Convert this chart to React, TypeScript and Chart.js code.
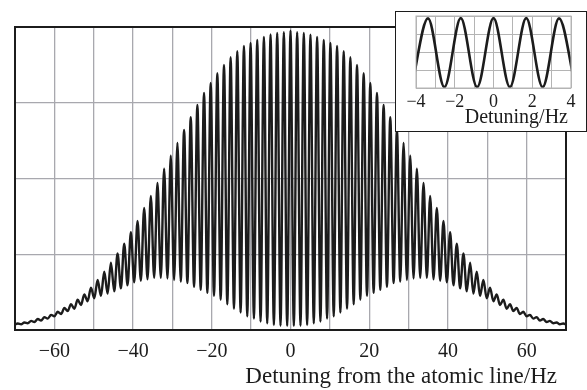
import React, { useEffect, useRef } from "react";
import { Chart, registerables } from "chart.js";

Chart.register(...registerables);

// Fringe spacing (Hz)
const fringePeriodHz = 1.69;

// Main plot: heights of fringe maxima at k * period, k = 0..41 (pattern is symmetric about 0)
const peakTops = [
  3.95, 3.93, 3.92, 3.9, 3.87, 3.83, 3.79, 3.75, 3.68, 3.6, 3.5, 3.39, 3.26, 3.13,
  2.97, 2.81, 2.64, 2.47, 2.3, 2.13, 1.94, 1.77, 1.61, 1.44, 1.29, 1.14, 1.01, 0.89,
  0.77, 0.66, 0.56, 0.47, 0.4, 0.34, 0.29, 0.24, 0.2, 0.17, 0.145, 0.12, 0.1, 0.085,
];
// Main plot: heights of fringe minima at (k + 0.5) * period, k = 0..41
const troughBottoms = [
  0.055, 0.057, 0.066, 0.088, 0.11, 0.15, 0.18, 0.23, 0.28, 0.34, 0.4, 0.45, 0.49, 0.53,
  0.57, 0.62, 0.64, 0.66, 0.68, 0.69, 0.69, 0.67, 0.65, 0.63, 0.59, 0.55, 0.51, 0.48,
  0.45, 0.42, 0.38, 0.33, 0.28, 0.25, 0.21, 0.18, 0.15, 0.125, 0.105, 0.09, 0.075, 0.07,
];

// Inset: maxima at k * period (k = -2..2), minima at (k + 0.5) * period (k = -3..2)
const insetPeakTops = [3.87, 3.88, 3.88, 3.88, 3.87];
const insetTroughBottoms = [0.05, 0.05, 0.05, 0.05, 0.05, 0.05];

// Axis settings
const mainXRange = [-70, 70];
const mainXStep = 10;
const mainXLabelStep = 20;
const insetXRange = [-4, 4];
const yRange = [0, 4];
const mainTitle = "Detuning from the atomic line/Hz";
const insetTitle = "Detuning/Hz";

const SERIF = "'Liberation Serif', 'DejaVu Serif', serif";
const INK = "#1c1c1c";

function fmt(v: number): string {
  return v < 0 ? "\u2212" + Math.abs(v) : String(v);
}

function buildMainPoints() {
  const pts: { x: number; y: number }[] = [];
  const n = peakTops.length;
  for (let k = -n; k < n; k++) {
    if (k > -n) {
      pts.push({ x: k * fringePeriodHz, y: peakTops[Math.abs(k)] });
    }
    const ti = k >= 0 ? k : -k - 1;
    pts.push({ x: (k + 0.5) * fringePeriodHz, y: troughBottoms[ti] });
  }
  pts.push({ x: (n - 1) * fringePeriodHz, y: peakTops[n - 1] });
  pts.sort((a, b) => a.x - b.x);
  return pts;
}

function buildInsetPoints() {
  const pts: { x: number; y: number }[] = [];
  insetPeakTops.forEach((v, i) => pts.push({ x: (i - 2) * fringePeriodHz, y: v }));
  insetTroughBottoms.forEach((v, i) => pts.push({ x: (i - 3 + 0.5) * fringePeriodHz, y: v }));
  pts.sort((a, b) => a.x - b.x);
  return pts;
}

const framePlugin = {
  id: "frame",
  afterDraw(chart: any, _args: any, opts: any) {
    const { ctx, chartArea } = chart;
    const { left, top, right, bottom } = chartArea;
    ctx.save();
    if (opts.width > 0) {
      ctx.strokeStyle = opts.color;
      ctx.lineWidth = opts.width;
      ctx.strokeRect(left, top, right - left, bottom - top);
    }
    if (opts.title) {
      ctx.font = opts.font;
      ctx.fillStyle = INK;
      ctx.textAlign = "right";
      ctx.textBaseline = "alphabetic";
      ctx.fillText(opts.title, right - opts.titleInset, bottom + opts.titleOffset);
    }
    ctx.restore();
  },
};

export default function App() {
  const mainRef = useRef<HTMLCanvasElement>(null);
  const insetRef = useRef<HTMLCanvasElement>(null);

  useEffect(() => {
    const main = new Chart(mainRef.current!, {
      type: "line",
      data: {
        datasets: [
          {
            data: buildMainPoints(),
            borderColor: INK,
            borderWidth: 2.4,
            pointRadius: 0,
            cubicInterpolationMode: "monotone",
            fill: false,
          },
        ],
      },
      options: {
        animation: false,
        responsive: false,
        events: [],
        layout: { padding: { left: 15, right: 21, top: 27, bottom: 0 } },
        plugins: {
          legend: { display: false },
          tooltip: { enabled: false },
          frame: {
            color: INK,
            width: 2,
            title: mainTitle,
            font: `23px ${SERIF}`,
            titleInset: 9,
            titleOffset: 53,
          },
        } as any,
        scales: {
          x: {
            type: "linear",
            min: mainXRange[0],
            max: mainXRange[1],
            afterFit: (s: any) => {
              s.height = 60;
            },
            border: { display: false },
            grid: { color: "#a8a8ae", lineWidth: 1.3, drawTicks: false },
            ticks: {
              stepSize: mainXStep,
              autoSkip: false,
              maxRotation: 0,
              padding: 10,
              color: INK,
              font: { family: SERIF, size: 20 },
              callback: (v: any) => (Number(v) % mainXLabelStep === 0 ? fmt(Number(v)) : ""),
            },
          },
          y: {
            type: "linear",
            min: yRange[0],
            max: yRange[1],
            afterFit: (s: any) => {
              s.width = 0;
            },
            border: { display: false },
            grid: { color: "#a8a8ae", lineWidth: 1.3, drawTicks: false },
            ticks: { display: false, stepSize: 1 },
          },
        },
      },
      plugins: [framePlugin],
    });

    const inset = new Chart(insetRef.current!, {
      type: "line",
      data: {
        datasets: [
          {
            data: buildInsetPoints(),
            borderColor: INK,
            borderWidth: 2.6,
            pointRadius: 0,
            cubicInterpolationMode: "monotone",
            fill: false,
          },
        ],
      },
      options: {
        animation: false,
        responsive: false,
        events: [],
        layout: { padding: { left: 20, right: 14, top: 4, bottom: 0 } },
        plugins: {
          legend: { display: false },
          tooltip: { enabled: false },
          frame: {
            color: "#b4b4b4",
            width: 1,
            title: insetTitle,
            font: `20px ${SERIF}`,
            titleInset: 3,
            titleOffset: 35,
          },
        } as any,
        scales: {
          x: {
            type: "linear",
            min: insetXRange[0],
            max: insetXRange[1],
            afterFit: (s: any) => {
              s.height = 42;
            },
            border: { display: false },
            grid: { color: "#b4b4b4", lineWidth: 1, drawTicks: false },
            ticks: {
              stepSize: 1,
              autoSkip: false,
              maxRotation: 0,
              padding: 3,
              color: INK,
              font: { family: SERIF, size: 18 },
              callback: (v: any) => (Number(v) % 2 === 0 ? fmt(Number(v)) : ""),
            },
          },
          y: {
            type: "linear",
            min: yRange[0],
            max: yRange[1],
            afterFit: (s: any) => {
              s.width = 0;
            },
            border: { display: false },
            grid: { color: "#b4b4b4", lineWidth: 1, drawTicks: false },
            ticks: { display: false, stepSize: 1 },
          },
        },
      },
      plugins: [framePlugin],
    });

    return () => {
      main.destroy();
      inset.destroy();
    };
  }, []);

  return (
    <div style={{ position: "fixed", left: 0, top: 0, width: 587, height: 390, background: "#fff" }}>
      <canvas ref={mainRef} width={587} height={390} style={{ position: "absolute", left: 0, top: 0 }} />
      <div
        style={{
          position: "absolute",
          left: 395,
          top: 11,
          width: 192,
          height: 121,
          border: `1.5px solid ${INK}`,
          boxSizing: "border-box",
          background: "#fff",
        }}
      >
        <canvas ref={insetRef} width={189} height={118} style={{ display: "block" }} />
      </div>
    </div>
  );
}
